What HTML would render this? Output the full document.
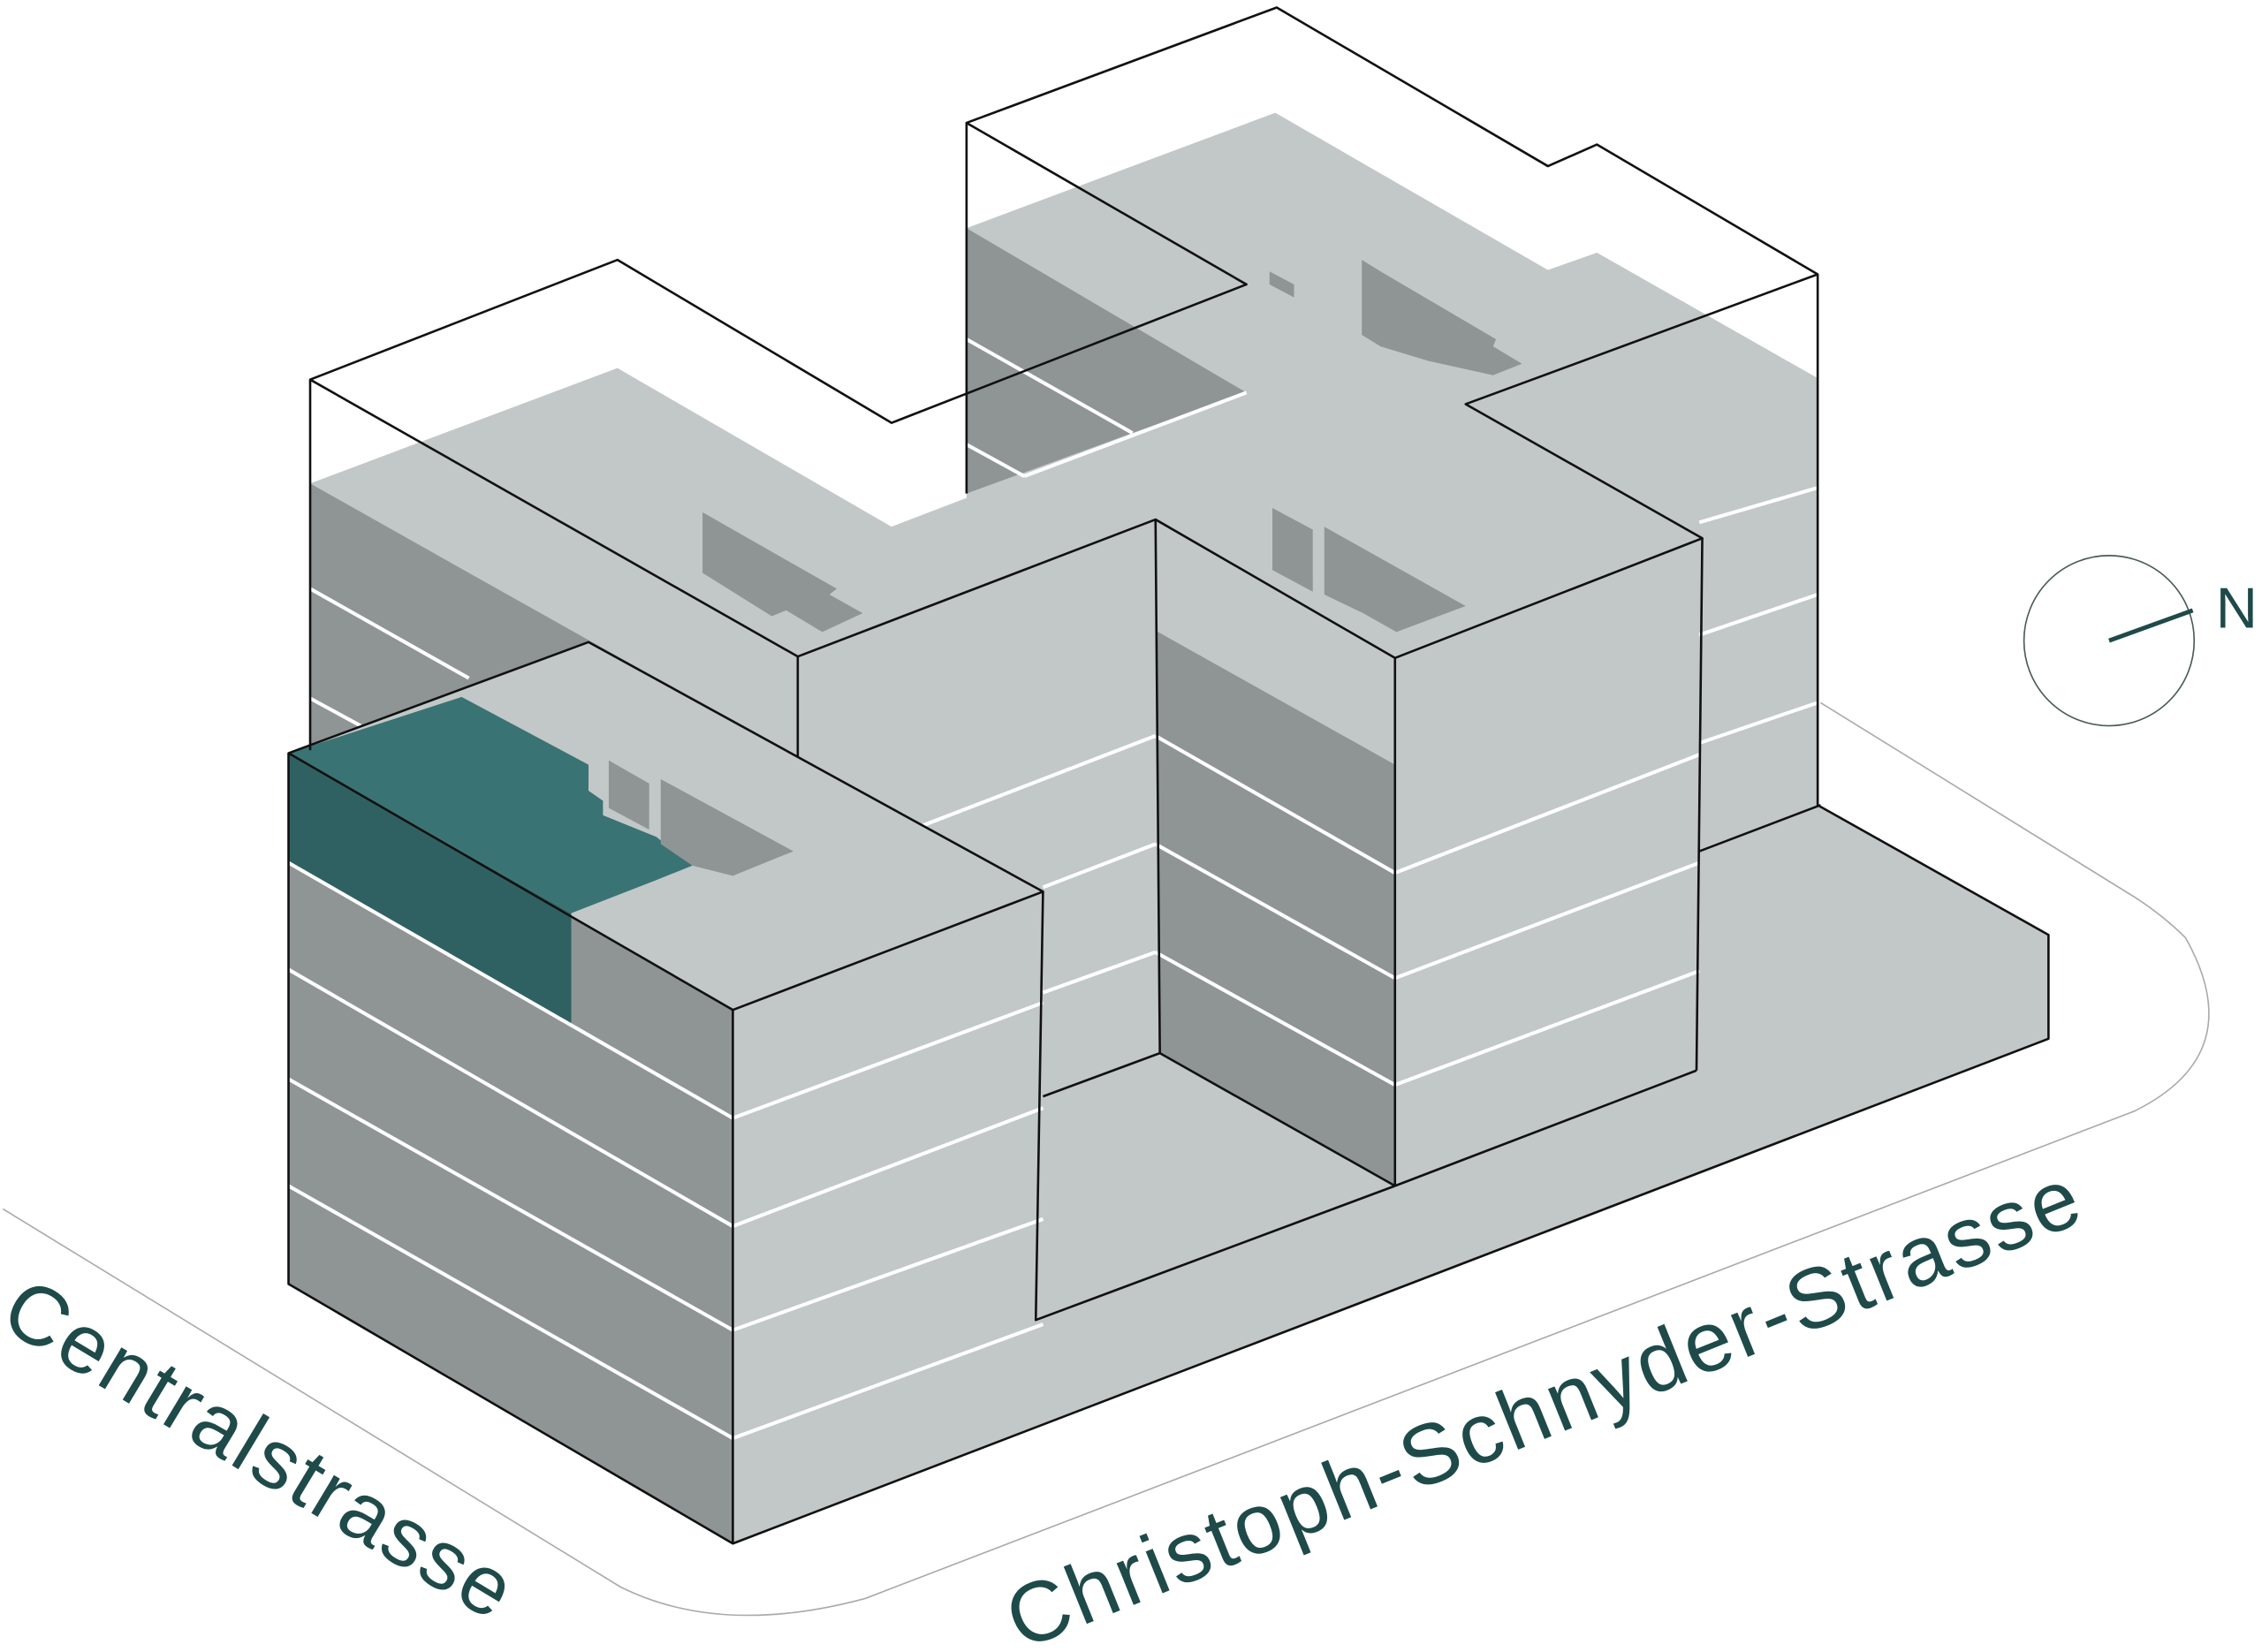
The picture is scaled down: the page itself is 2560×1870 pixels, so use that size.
<!DOCTYPE html>
<html><head><meta charset="utf-8"><style>html,body{margin:0;padding:0;background:#fff}svg{display:block}</style></head>
<body>
<svg width="2560" height="1870" viewBox="0 0 1568 1145" xmlns="http://www.w3.org/2000/svg">
<rect width="1568" height="1145" fill="#fff"/>
<path d="M2,838 L430,1100 Q500,1135 600,1108 L1480,770 Q1560,730 1515,650 Q1500,635 1480,622 L1262,487" fill="none" stroke="#aaa" stroke-width="1"/>
<circle cx="1462" cy="444" r="59" fill="none" stroke="#4a5a5a" stroke-width="1"/>
<line x1="1462" y1="444" x2="1520" y2="423" stroke="#1f4a4a" stroke-width="3"/>
<text x="1536" y="435" font-family="Liberation Sans, sans-serif" font-size="40" fill="#1f4a4a">N</text>
<text transform="translate(-2,918) rotate(31)" font-family="Liberation Sans, sans-serif" font-size="58" letter-spacing="2" fill="#1f4a4a">Centralstrasse</text>
<text transform="translate(708,1144) rotate(-22)" font-family="Liberation Sans, sans-serif" font-size="59" letter-spacing="2.2" fill="#1f4a4a">Christoph-Schnyder-Strasse</text>
<polygon points="215,335 428,255 618,365 670,345 670,158 884,78 1073,187 1107,175 1260,262 1260,558 1420,648 1420,720 508,1070 200,890 200,522 215,517" fill="#c2c8c7"/>
<polygon points="215,335 325,397 553,525 553,560 215,520" fill="#8f9595"/>
<polygon points="670,158 864,272 785,300 670,342" fill="#8f9595"/>
<polygon points="801,437 967,530 967,822 804,730" fill="#8f9595"/>
<polygon points="200,522 508,700 508,1070 200,890" fill="#8f9595"/>
<polygon points="200,522 396,633 396,710 200,598" fill="#2f6163"/>
<polygon points="200,522 320,483 408,530 408,548 418,555 418,565 455,580 480,600 455,610 396,633" fill="#3a7374"/>
<polygon points="487,355 580,408 575,412 598,425 570,438 545,423 535,427 487,397" fill="#8f9595"/>
<polygon points="882,352 910,367 910,410 882,395" fill="#8f9595"/>
<polygon points="918,365 1016,420 968,438 945,425 918,412" fill="#8f9595"/>
<polygon points="944,180 957,188 1037,235 1035,240 1055,252 1035,260 990,250 957,240 944,232" fill="#8f9595"/>
<polygon points="880,188 897,197 897,206 880,197" fill="#8f9595"/>
<polygon points="200,522 408,445 723,618 508,700 396,633 455,610 480,600 455,580 418,565 418,555 408,548 408,530 320,483" fill="#c2c8c7"/>
<polygon points="422,527 450,543 450,575 422,560" fill="#8f9595"/>
<polygon points="458,540 550,590 508,607 480,600 458,585" fill="#8f9595"/>
<g stroke="#fff" stroke-width="2.5" fill="none">
<line x1="200" y1="598" x2="508" y2="775"/><line x1="200" y1="672" x2="508" y2="850"/><line x1="200" y1="748" x2="508" y2="922"/><line x1="200" y1="822" x2="508" y2="997"/>
<line x1="508" y1="775" x2="723" y2="695"/><line x1="508" y1="850" x2="723" y2="768"/><line x1="508" y1="922" x2="723" y2="845"/><line x1="508" y1="997" x2="723" y2="918"/>
<line x1="640" y1="572" x2="801" y2="510"/><line x1="723" y1="615" x2="801" y2="585"/><line x1="723" y1="688" x2="801" y2="660"/>
<line x1="801" y1="510" x2="967" y2="605"/><line x1="801" y1="585" x2="967" y2="678"/><line x1="801" y1="660" x2="967" y2="752"/>
<line x1="967" y1="605" x2="1178" y2="523"/><line x1="967" y1="678" x2="1178" y2="598"/><line x1="967" y1="752" x2="1178" y2="673"/>
<line x1="1178" y1="362" x2="1260" y2="338"/><line x1="1178" y1="440" x2="1260" y2="412"/><line x1="1178" y1="515" x2="1260" y2="487"/>
<line x1="215" y1="408" x2="325" y2="470"/><line x1="215" y1="484" x2="250" y2="503"/>
<line x1="670" y1="235" x2="785" y2="300"/><line x1="670" y1="308" x2="710" y2="330"/><line x1="710" y1="330" x2="864" y2="272"/>
</g>
<g stroke="#111" stroke-width="1.6" fill="none" stroke-linejoin="round">
<polyline points="215,520 215,263 428,180 618,293 864,197 670,85 885,5 1073,115 1107,100 1260,190 1260,558 1420,648 1420,720 508,1070 200,890 200,522 408,445 723,618 508,700 200,522"/>
<line x1="508" y1="700" x2="508" y2="1070"/>
<line x1="670" y1="85" x2="670" y2="342"/>
<line x1="215" y1="263" x2="553" y2="455"/>
<line x1="553" y1="455" x2="553" y2="525"/>
<polyline points="553,455 801,360 967,456 1180,373 1016,280 1260,190"/>
<line x1="801" y1="360" x2="804" y2="730"/>
<line x1="967" y1="456" x2="967" y2="822"/>
<line x1="1180" y1="373" x2="1176" y2="742"/>
<line x1="1178" y1="590" x2="1262" y2="558"/>
<line x1="967" y1="822" x2="1176" y2="742"/>
<polyline points="723,618 718,915 967,822"/>
<polyline points="723,760 804,730 967,822"/>
</g>
</svg>
</body></html>
